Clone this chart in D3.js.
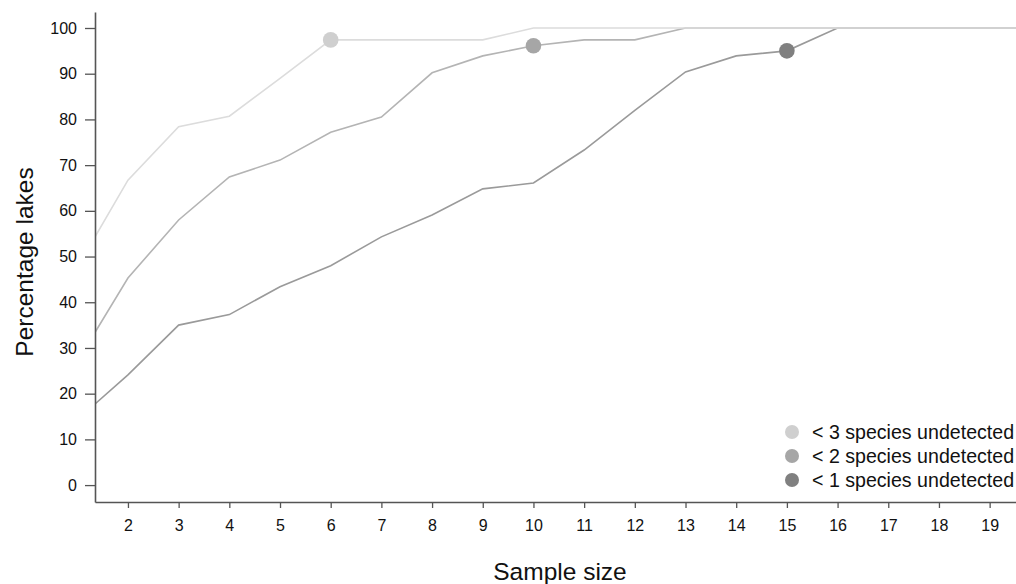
<!DOCTYPE html>
<html>
<head>
<meta charset="utf-8">
<script src="https://cdn.jsdelivr.net/npm/d3@7"></script>
<style>
  body { margin: 0; background: #fff; }
  svg { display: block; font-family: "Liberation Sans", Arial, sans-serif; }
</style>
</head>
<body>
<div id="vis"></div>
<script>
// values (percentage of lakes); the curves run on past 19 to the frame edge
const sampleSizes = [1, 2, 3, 4, 5, 6, 7, 8, 9, 10, 11, 12, 13, 14, 15, 16, 17, 18, 19, 20];
const lessThan3 = [47.6, 66.7, 78.4, 80.7, 89.0, 97.4, 97.4, 97.4, 97.4, 100, 100, 100, 100, 100, 100, 100, 100, 100, 100, 100];
const lessThan2 = [27.0, 45.3, 58.0, 67.4, 71.1, 77.2, 80.5, 90.2, 93.9, 96.1, 97.4, 97.4, 100, 100, 100, 100, 100, 100, 100, 100];
const lessThan1 = [14.3, 24.1, 35.0, 37.3, 43.4, 48.0, 54.3, 59.1, 64.8, 66.1, 73.3, 82.0, 90.4, 93.9, 95.0, 100, 100, 100, 100, 100];
const seriesNames = ["< 3 species undetected", "< 2 species undetected", "< 1 species undetected"];
const markerAt = [6, 10, 15];
const yTicks = [0, 10, 20, 30, 40, 50, 60, 70, 80, 90, 100];
const xTicks = [2, 3, 4, 5, 6, 7, 8, 9, 10, 11, 12, 13, 14, 15, 16, 17, 18, 19];

const lineColors = ["#dcdcdc", "#b4b4b4", "#9a9a9a"];
const dotColors = ["#cfcfcf", "#a6a6a6", "#808080"];

const width = 1016, height = 584;
const plot = { left: 95, right: 1016, top: 12, bottom: 502 };

const svg = d3.select("#vis").append("svg")
  .attr("width", width)
  .attr("height", height);

const x = d3.scaleLinear().domain([1.35, 19.52]).range([plot.left, plot.right]);
const y = d3.scaleLinear().domain([-3.7, 103.5]).range([plot.bottom, plot.top]);

svg.append("clipPath").attr("id", "plot")
  .append("rect")
  .attr("x", plot.left).attr("y", 0)
  .attr("width", plot.right - plot.left).attr("height", plot.bottom);

const series = [lessThan3, lessThan2, lessThan1].map((vals, i) => ({
  name: seriesNames[i],
  values: vals.map((v, j) => ({ n: sampleSizes[j], v })),
  marker: markerAt[i],
  line: lineColors[i],
  dot: dotColors[i]
}));

const line = d3.line().x(d => x(d.n)).y(d => y(d.v));

const g = svg.append("g").attr("clip-path", "url(#plot)");

// darkest first so the light line sits on top where they meet at 100
series.slice().reverse().forEach(s => {
  g.append("path")
    .datum(s.values)
    .attr("fill", "none")
    .attr("stroke", s.line)
    .attr("stroke-width", 1.6)
    .attr("d", line);
});

series.forEach(s => {
  const p = s.values.find(d => d.n === s.marker);
  g.append("circle")
    .attr("cx", x(p.n))
    .attr("cy", y(p.v))
    .attr("r", 7.8)
    .attr("fill", s.dot);
});

// axes
const yAxis = svg.append("g")
  .attr("transform", `translate(${plot.left},0)`)
  .call(d3.axisLeft(y).tickValues(yTicks).tickSize(10).tickSizeOuter(0).tickPadding(8));
yAxis.selectAll("text").attr("font-size", 16).attr("fill", "#111").style("font-family", "inherit");

const xAxis = svg.append("g")
  .attr("transform", `translate(0,${plot.bottom})`)
  .call(d3.axisBottom(x).tickValues(xTicks).tickSize(6).tickSizeOuter(0).tickPadding(12));
xAxis.selectAll("text").attr("font-size", 16).attr("fill", "#111").style("font-family", "inherit");

[yAxis, xAxis].forEach(a => {
  a.select(".domain").attr("stroke", "#555").attr("stroke-width", 1.6);
  a.selectAll(".tick line").attr("stroke", "#555").attr("stroke-width", 1.3);
});

// titles
svg.append("text")
  .attr("x", 560)
  .attr("y", 580)
  .attr("text-anchor", "middle")
  .attr("font-size", 24.5)
  .attr("fill", "#111")
  .text("Sample size");

svg.append("text")
  .attr("transform", "translate(33,262) rotate(-90)")
  .attr("text-anchor", "middle")
  .attr("font-size", 24.5)
  .attr("fill", "#111")
  .text("Percentage lakes");

// legend
const legend = svg.append("g").attr("transform", "translate(792,432)");
series.forEach((s, i) => {
  const row = legend.append("g").attr("transform", `translate(0,${i * 24})`);
  row.append("circle").attr("r", 7).attr("fill", s.dot);
  row.append("text")
    .attr("x", 20)
    .attr("y", 6.5)
    .attr("font-size", 19.6)
    .attr("fill", "#111")
    .text(s.name);
});
</script>
</body>
</html>
